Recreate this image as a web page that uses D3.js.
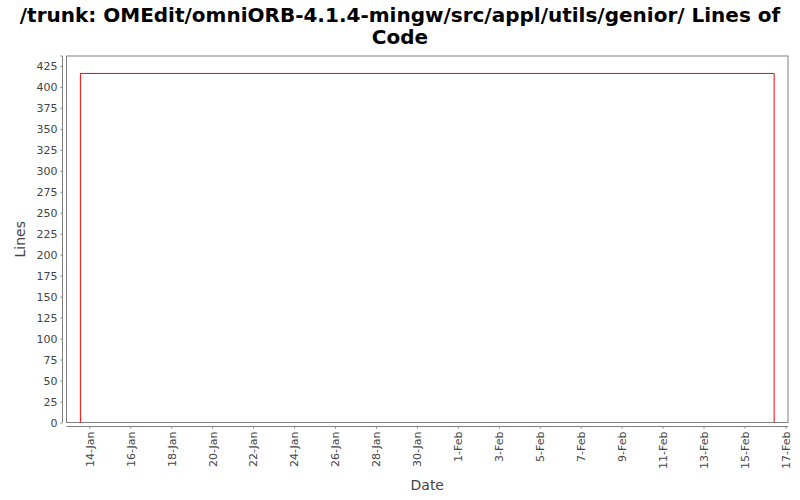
<!DOCTYPE html>
<html>
<head>
<meta charset="utf-8">
<script src="https://cdn.jsdelivr.net/npm/d3@7"></script>
<style>
  body { margin: 0; background: #fff; }
  text { font-family: "DejaVu Sans", sans-serif; }
</style>
</head>
<body>
<svg id="chart" width="800" height="500"></svg>
<script>
const titleLines = ["/trunk: OMEdit/omniORB-4.1.4-mingw/src/appl/utils/genior/ Lines of", "Code"];
const dates = ["2013-01-13T13:30", "2013-01-13T13:30", "2013-02-16T10:45", "2013-02-16T10:45"];
const lines = [0, 416, 416, 0];
const yTicks = d3.range(0, 426, 25);
const xTickStart = "2013-01-14";
const xTickEnd = "2013-02-18";

const svg = d3.select("#chart");
const plot = { left: 66.5, right: 788, top: 56, bottom: 422.5 };
const parse = d3.timeParse("%Y-%m-%dT%H:%M");
const data = dates.map((d, i) => ({ date: parse(d), value: lines[i] }));

// x domain with 2% margin each side
const ext = d3.extent(data, d => d.date);
const span = ext[1] - ext[0];
const x = d3.scaleTime()
  .domain([new Date(+ext[0] - span * 0.02), new Date(+ext[1] + span * 0.02)])
  .range([plot.left, plot.right]);

const y = d3.scaleLinear()
  .domain([0, d3.max(lines) * 1.05])
  .range([plot.bottom, plot.top]);

// title
svg.append("g")
  .selectAll("text")
  .data(titleLines)
  .enter()
  .append("text")
  .attr("x", 400)
  .attr("y", (_, i) => 22 + i * 22)
  .attr("text-anchor", "middle")
  .style("font-size", "20px")
  .style("font-weight", "bold")
  .attr("fill", "#000")
  .text(d => d);

// plot background + border
svg.append("rect")
  .attr("x", plot.left)
  .attr("y", plot.top)
  .attr("width", plot.right - plot.left)
  .attr("height", plot.bottom - plot.top)
  .attr("fill", "#fff")
  .attr("stroke", "#808080")
  .attr("stroke-width", 1);

// y axis
const yAxis = svg.append("g")
  .attr("transform", `translate(${plot.left - 4},0)`)
  .call(d3.axisLeft(y).tickValues(yTicks).tickSize(2).tickPadding(3));
yAxis.select(".domain").attr("stroke", "#808080").attr("d", `M-2,${plot.top}H0V${plot.bottom}`);
yAxis.selectAll(".tick line").attr("stroke", "#808080");
yAxis.selectAll(".tick text").attr("fill", "#444").style("font-size", "11px");

// x axis
const tickDates = d3.timeDay.range(d3.timeParse("%Y-%m-%d")(xTickStart), d3.timeParse("%Y-%m-%d")(xTickEnd), 2);
const xAxis = svg.append("g")
  .attr("transform", `translate(0,${plot.bottom + 4})`)
  .call(d3.axisBottom(x).tickValues(tickDates).tickSize(2).tickFormat(d3.timeFormat("%-d-%b")));
xAxis.select(".domain").attr("stroke", "#808080").attr("d", `M${plot.left},0H${plot.right}`);
xAxis.selectAll(".tick line").attr("stroke", "#808080");
xAxis.selectAll(".tick text")
  .attr("fill", "#444")
  .style("font-size", "11px")
  .attr("transform", "rotate(-90)")
  .attr("text-anchor", "end")
  .attr("x", -5)
  .attr("y", 0)
  .attr("dy", "0.35em");

// axis labels
svg.append("text")
  .attr("transform", `translate(25,${(plot.top + plot.bottom) / 2}) rotate(-90)`)
  .attr("text-anchor", "middle")
  .attr("fill", "#444")
  .style("font-size", "14px")
  .text("Lines");

svg.append("text")
  .attr("x", (plot.left + plot.right) / 2)
  .attr("y", 490)
  .attr("text-anchor", "middle")
  .attr("fill", "#444")
  .style("font-size", "14px")
  .text("Date");

// series
svg.append("path")
  .datum(data)
  .attr("fill", "none")
  .attr("stroke", "#ff0000")
  .attr("stroke-width", 1)
  .attr("d", d3.line().x(d => x(d.date)).y(d => y(d.value)));
</script>
</body>
</html>
